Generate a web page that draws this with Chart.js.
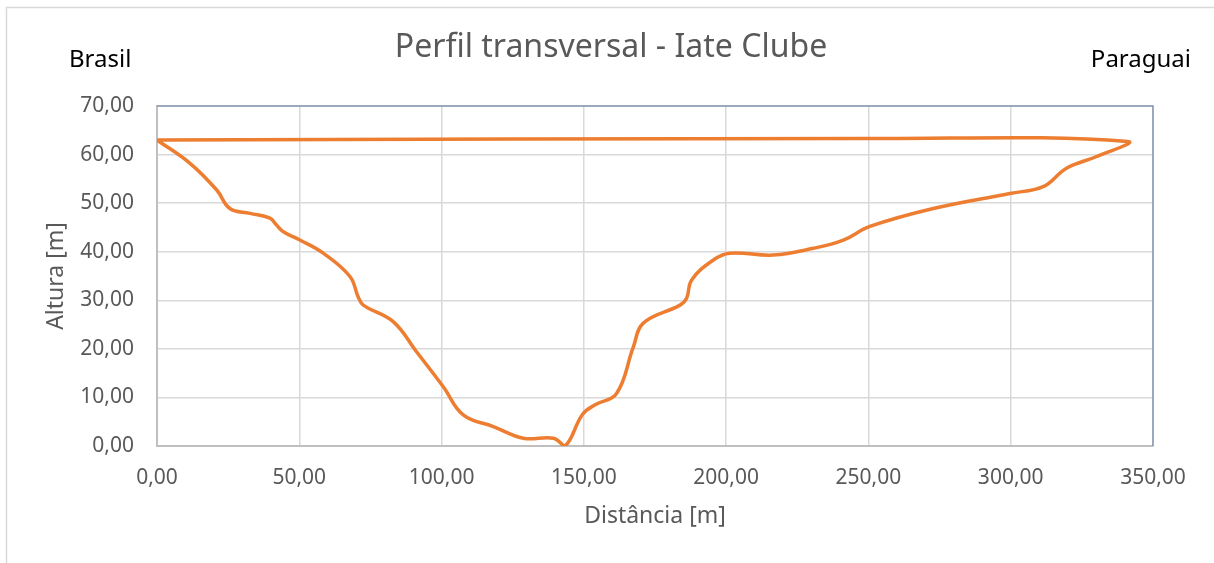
<!DOCTYPE html>
<html>
<head>
<meta charset="utf-8">
<script src="https://cdn.jsdelivr.net/npm/chart.js@4"></script>
<style>
  html, body { margin: 0; padding: 0; background: #fff; }
  #wrap { width: 1214px; height: 563px; }
</style>
</head>
<body>
<div id="wrap"><canvas id="perfil"></canvas></div>
<script>
// Perfil medido (margem Brasil -> margem Paraguai), fecha de volta no nível d'água
var distancias = [0, 11.6, 21, 25.6, 32.7, 39.7, 42, 44.4, 50.2, 58.4, 67.8, 70.7, 72.5, 83, 91.2, 100.6, 107.6, 118.2, 128.7, 139.3, 143.4, 149.5, 154, 161.5, 167.4, 170.9, 183.8, 186.1, 187.9, 195.5, 201.3, 216.6, 230.6, 241.2, 250.5, 272.8, 299.7, 311.4, 319.6, 330.2, 341, 250, 0];
var alturas    = [63, 58.2, 52.7, 48.9, 47.9, 46.9, 45.5, 44.1, 42.4, 39.7, 34.9, 30.7, 29, 25.6, 19.4, 12.2, 6.4, 4.0, 1.6, 1.6, 0, 6.5, 8.5, 10.8, 20.4, 25.3, 29, 30.4, 34.2, 38.3, 39.7, 39.3, 40.7, 42.4, 45.2, 48.9, 52, 53.4, 57.2, 59.6, 62.7, 63.3, 63];

var xTicks = [0, 50, 100, 150, 200, 250, 300, 350];
var yTicks = [0, 10, 20, 30, 40, 50, 60, 70];

var titulo = 'Perfil transversal - Iate Clube';
var margemEsq = 'Brasil';
var margemDir = 'Paraguai';

var fonte = '"Noto Sans", "Open Sans", sans-serif';
var cinza = '#595959';

function fmt(v) {
    return v.toFixed(2).replace('.', ',');
}

var pontos = distancias.map(function (d, i) {
    return { x: d, y: alturas[i] };
});

// textos de cabeçalho e bordas do quadro
var extras = {
    id: 'extras',
    beforeDraw: function (chart) {
        var ctx = chart.ctx;
        ctx.save();
        ctx.strokeStyle = '#d9d9d9';
        ctx.lineWidth = 1.5;
        ctx.strokeRect(6.5, 7.5, 1400, 700);
        ctx.restore();
    },
    afterDraw: function (chart) {
        var ctx = chart.ctx;
        var a = chart.chartArea;
        ctx.save();
        ctx.strokeStyle = '#8497B0';
        ctx.lineWidth = 1.5;
        ctx.beginPath();
        ctx.moveTo(a.left, a.top);
        ctx.lineTo(a.right, a.top);
        ctx.lineTo(a.right, a.bottom);
        ctx.stroke();

        ctx.textBaseline = 'alphabetic';
        ctx.fillStyle = cinza;
        ctx.font = '32px ' + fonte;
        ctx.textAlign = 'center';
        ctx.fillText(titulo, 611, 57);

        ctx.fillStyle = '#000';
        ctx.font = '24px ' + fonte;
        ctx.textAlign = 'left';
        ctx.fillText(margemEsq, 69, 67);
        ctx.textAlign = 'right';
        ctx.fillText(margemDir, 1191, 67);
        ctx.restore();
    }
};

var ctx = document.getElementById('perfil').getContext('2d');
var chart = new Chart(ctx, {
    type: 'scatter',
    data: {
        datasets: [{
            label: 'Perfil',
            data: pontos,
            showLine: true,
            borderColor: '#ED7D31',
            borderWidth: 3.5,
            pointRadius: 0,
            tension: 0.4,
            fill: false
        }]
    },
    options: {
        responsive: true,
        maintainAspectRatio: false,
        animation: false,
        layout: {
            padding: { top: 106, right: 61, bottom: 0, left: 0 }
        },
        plugins: {
            legend: { display: false },
            tooltip: { enabled: false }
        },
        scales: {
            x: {
                type: 'linear',
                min: xTicks[0],
                max: xTicks[xTicks.length - 1],
                afterFit: function (s) { s.height = 117; },
                afterBuildTicks: function (s) {
                    s.ticks = xTicks.map(function (v) { return { value: v }; });
                },
                grid: { color: '#d9d9d9', lineWidth: 1.5, drawTicks: false },
                border: { color: '#BFBFBF', width: 2 },
                ticks: {
                    color: cinza,
                    font: { family: fonte, size: 21 },
                    padding: 19,
                    maxRotation: 0,
                    callback: function (v) { return fmt(v); }
                },
                title: {
                    display: true,
                    text: 'Distância [m]',
                    color: cinza,
                    font: { family: fonte, size: 23 },
                    padding: { top: 0, bottom: 33 }
                }
            },
            y: {
                type: 'linear',
                min: yTicks[0],
                max: yTicks[yTicks.length - 1],
                afterFit: function (s) { s.width = 157; },
                afterBuildTicks: function (s) {
                    s.ticks = yTicks.map(function (v) { return { value: v }; });
                },
                grid: { color: '#d9d9d9', lineWidth: 1.5, drawTicks: false },
                border: { color: '#BFBFBF', width: 2 },
                ticks: {
                    color: cinza,
                    font: { family: fonte, size: 21 },
                    padding: 23,
                    callback: function (v) { return fmt(v); }
                },
                title: {
                    display: true,
                    text: 'Altura [m]',
                    color: cinza,
                    font: { family: fonte, size: 23 },
                    padding: { top: 43, bottom: 0 }
                }
            }
        }
    },
    plugins: [extras]
});
</script>
</body>
</html>
